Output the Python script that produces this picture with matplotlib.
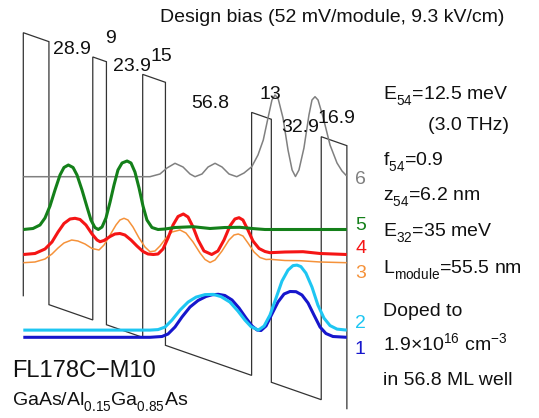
import matplotlib
matplotlib.use("Agg")
import matplotlib.pyplot as plt

plt.rcParams['font.family'] = 'Liberation Sans'
plt.rcParams['mathtext.fontset'] = 'custom'
plt.rcParams['mathtext.rm'] = 'Liberation Sans'
plt.rcParams['mathtext.it'] = 'Liberation Sans'
plt.rcParams['mathtext.bf'] = 'Liberation Sans:bold'
# subscripts sit lower in the original figure
try:
    from matplotlib import _mathtext
    _mathtext.FontConstantsBase.sub1 = 0.65
except Exception:
    pass

# layer stack (ML), first barrier belongs to previous module
layers_ml = [16.9, 28.9, 9, 23.9, 15, 56.8, 13, 32.9, 16.9]
bias_mev = 52.0          # per module
barrier_mev = 131.5

# state energies (meV, relative to band bottom at left edge)
levels = [-20.8, -17.2, 16.5, 20.6, 33.1, 59.5]   # states 1..6

# |psi|^2: position (ML) and height above level (meV)
psi1_x = [0, 83.5, 91.4, 95.4, 100.0, 104.6, 109.9, 115.2, 120.4, 124.4, 128.5, 132.9, 137.6, 142.2, 146.8, 150.8,
          154.1, 156.7, 160.0, 163.9, 167.9, 171.9, 175.8, 179.8, 183.7, 187.7, 191.6, 195.6, 199.5, 204.1, 213.2]
psi1_h = [0, 0, 0.4, 1.65, 5.15, 10.15, 15.15, 18.4, 20.4, 21.25, 21.5, 20.9, 18.65, 14.65, 9.65, 5.65,
          3.65, 3.4, 5.65, 11.65, 17.65, 21.65, 22.9, 22.8, 21.15, 17.15, 11.15, 5.15, 1.9, 0.4, 0]

psi2_x = [0, 83.5, 88.8, 93.4, 98.0, 103.3, 108.6, 113.9, 119.8, 125.3, 130.3, 136.2, 141.5, 146.1, 150.1, 154.9,
          158.7, 162.6, 166.6, 170.5, 174.5, 177.8, 180.4, 183.0, 186.3, 190.3, 194.2, 198.2, 202.2, 206.8, 213.2]
psi2_h = [0, 0, 0.25, 1.5, 5, 10, 14, 16.5, 17.75, 17.85, 16.75, 14, 9.5, 5, 1.75, 0,
          2, 7.5, 16, 24.5, 30, 32.25, 32.5, 31.75, 28.5, 21.5, 12.5, 6, 2.25, 0.5, 0]

psi3_x = [0, 7.7, 14.3, 18.9, 22.9, 26.8, 31.9, 36.0, 40.7, 45.3, 49.9, 53.2, 57.2, 61.1, 63.7, 66.4, 69.0, 72.3,
          76.3, 80.2, 83.5, 86.8, 90.1, 94.1, 98.0, 103.3, 107.2, 111.9, 116.5, 119.8, 123.1, 126.4, 131.0, 135.6,
          138.9, 141.7, 144.8, 148.1, 152.1, 156.0, 160.0, 162.6, 172.5, 182.4, 195.6, 213.2]
psi3_h = [0, 0.35, 1.85, 4.35, 7.35, 9.85, 11.35, 10.85, 9.35, 7.1, 6.35, 8.85, 13.85, 18.85, 21.35, 22.2, 21.35, 17.85,
          12.35, 7.85, 5.5, 5.85, 8.35, 12.35, 15.35, 16.35, 14.85, 10.35, 4.85, 1.6, 0.1, 1.35, 5.85, 11.35,
          13.85, 14.35, 13.35, 9.85, 5.35, 2.6, 1.6, 1.7, 1.1, 1.0, 0.35, 0]

psi4_x = [0, 7.7, 14.3, 18.9, 22.9, 26.8, 30.8, 34.1, 37.4, 41.3, 45.3, 48.6, 50.6, 53.2, 57.2, 60.4, 63.7, 67.0,
          71.0, 74.9, 78.9, 82.2, 85.7, 88.8, 92.1, 95.4, 98.7, 102.0, 105.5, 108.6, 111.9, 115.2, 119.1, 124.2,
          128.3, 132.3, 136.2, 139.5, 142.2, 144.8, 148.1, 151.4, 155.4, 159.3, 162.6, 172.5, 184.4, 195.6, 213.2]
psi4_h = [0, 0.5, 2.75, 6.25, 11.25, 15.5, 17.75, 18.1, 17.5, 14.75, 10.25, 7.25, 6.4, 7.0, 9.0, 10.25, 10.5, 9.75,
          7.25, 4.25, 1.5, 0.25, 0, 0.25, 2.75, 8.25, 14.75, 19.0, 20.25, 18.75, 13.75, 7.25, 1.75, 0,
          1.75, 7.25, 14.25, 17.75, 18.4, 17.25, 12.25, 6.75, 3.0, 1.5, 0.9, 1.25, 1.4, 0.5, 0]

psi5_x = [0, 6.4, 11.0, 14.3, 17.6, 20.9, 24.2, 26.8, 29.7, 32.8, 35.4, 38.7, 42.0, 44.6, 47.2, 49.4, 51.9, 54.5,
          57.2, 59.8, 62.4, 65.1, 68.4, 71.0, 73.6, 76.3, 78.9, 81.5, 84.8, 88.8, 93.4, 100.0, 111.9, 123.1,
          132.9, 142.8, 150.7, 159.3, 213.2]
psi5_h = [0, 0.5, 2.25, 5.75, 11.75, 19.75, 27.25, 31.0, 32.25, 31.0, 27.25, 19.75, 11.25, 4.75, 1.0, 0, 1.25, 5.75,
          13.75, 22.25, 29.75, 33.25, 34.25, 33.25, 28.75, 20.75, 11.75, 4.75, 1.0, 0, 0.25, 1.0, 1.4, 0.5,
          1.0, 1.1, 0.5, 0, 0]

psi6_x = [0, 83.5, 90.1, 94.7, 100.0, 105.3, 109.9, 113.2, 117.8, 121.8, 126.4, 131.0, 135.6, 140.7, 145.5, 150.6,
          154.7, 158.2, 161.3, 163.9, 165.9, 167.9, 171.2, 174.5, 177.2, 179.4, 181.7, 185.0, 188.3, 190.3, 192.3,
          194.3, 197.6, 202.2, 206.8, 210.1, 213.2]
psi6_h = [0, 0, 1.35, 4.35, 6.7, 4.85, 1.35, 0, 1.35, 4.85, 6.7, 4.85, 1.35, 0, 1.85, 5.0,
          10.85, 18.35, 29.35, 38.35, 40.85, 39.35, 29.35, 13.35, 3.35, 0.1, 3.35, 14.35, 30.85, 38.35, 40.0,
          38.35, 29.85, 15.85, 6.85, 2.85, 0.35]

psi_x = [psi1_x, psi2_x, psi3_x, psi4_x, psi5_x, psi6_x]
psi_h = [psi1_h, psi2_h, psi3_h, psi4_h, psi5_h, psi6_h]
state_names = ['1', '2', '3', '4', '5', '6']
colors = ['#1616cc', '#1ec6f2', '#f5923a', '#f51515', '#14801a', '#808080']
widths = [2.2, 2.2, 1.1, 2.2, 2.2, 1.1]
draw_order = [5, 2, 0, 1, 3, 4]

fig = plt.figure(figsize=(5.39, 4.18), dpi=100)
ax = fig.add_axes([0, 0, 1, 1])
ax.set_xlim(-15.36, 339.95)
ax.set_ylim(-61.15, 147.85)
ax.axis('off')

# conduction band profile under bias
slope = bias_mev / sum(layers_ml[1:])
bx, by = [0, 0], [0, barrier_mev]
pos = 0.0
for i, t in enumerate(layers_ml):
    b = pos + t
    if i % 2 == 0:
        bx += [b, b]
        by += [barrier_mev - slope * b, -slope * b]
    else:
        bx += [b, b]
        by += [-slope * b, barrier_mev - slope * b]
    pos = b
ax.plot(bx, by, color='#333333', lw=0.9, solid_joinstyle='miter')

for k in draw_order:
    ax.plot(psi_x[k], [levels[k] + h for h in psi_h[k]], color=colors[k], lw=widths[k],
            solid_joinstyle='round', solid_capstyle='butt')


def px(x, y):
    return x / 539, 1 - y / 418


# layer thickness labels (skip the first barrier)
label_xy = [(53.3, 54), (105, 43.3), (112.7, 71), (150.7, 61), (191.7, 108.3), (259.3, 99), (281.7, 131.7),
            (317.3, 122.7)]
for t, (x, y) in zip(layers_ml[1:], label_xy):
    fig.text(*px(x, y), f'{t:g}', fontsize=14, va='baseline', ha='left', color='#111111')

# state labels
state_xy = [(355, 354), (355, 328.3), (355, 278.3), (355, 252.7), (355, 230), (355, 184)]
for k, (x, y) in enumerate(state_xy):
    fig.text(*px(x, y), state_names[k], fontsize=14, va='baseline', ha='left', color=colors[k])

fig.text(*px(160, 22.5), 'Design bias (52 mV/module, 9.3 kV/cm)', fontsize=14, va='baseline', color='#111111')

info = [(383, 100, r'E$_{54}$=12.5 meV'),
        (428, 130, '(3.0 THz)'),
        (383, 165, r'f$_{54}$=0.9'),
        (383, 200, r'z$_{54}$=6.2 nm'),
        (383, 236.7, r'E$_{32}$=35 meV'),
        (383, 273.3, r'L$_{\mathrm{module}}$=55.5 nm'),
        (383, 316, 'Doped to'),
        (383, 350, r'1.9$\times$10$^{16}$ cm$^{-3}$'),
        (383, 385, 'in 56.8 ML well')]
for x, y, s in info:
    fig.text(*px(x, y), s, fontsize=14, va='baseline', ha='left', color='#111111')

fig.text(*px(12.5, 376.7), 'FL178C\u2212M10', fontsize=17, va='baseline', color='#111111')
fig.text(*px(12.5, 405), r'GaAs/Al$_{0.15}$Ga$_{0.85}$As', fontsize=14, va='baseline', color='#111111')

fig.savefig('out.png', dpi=100)
